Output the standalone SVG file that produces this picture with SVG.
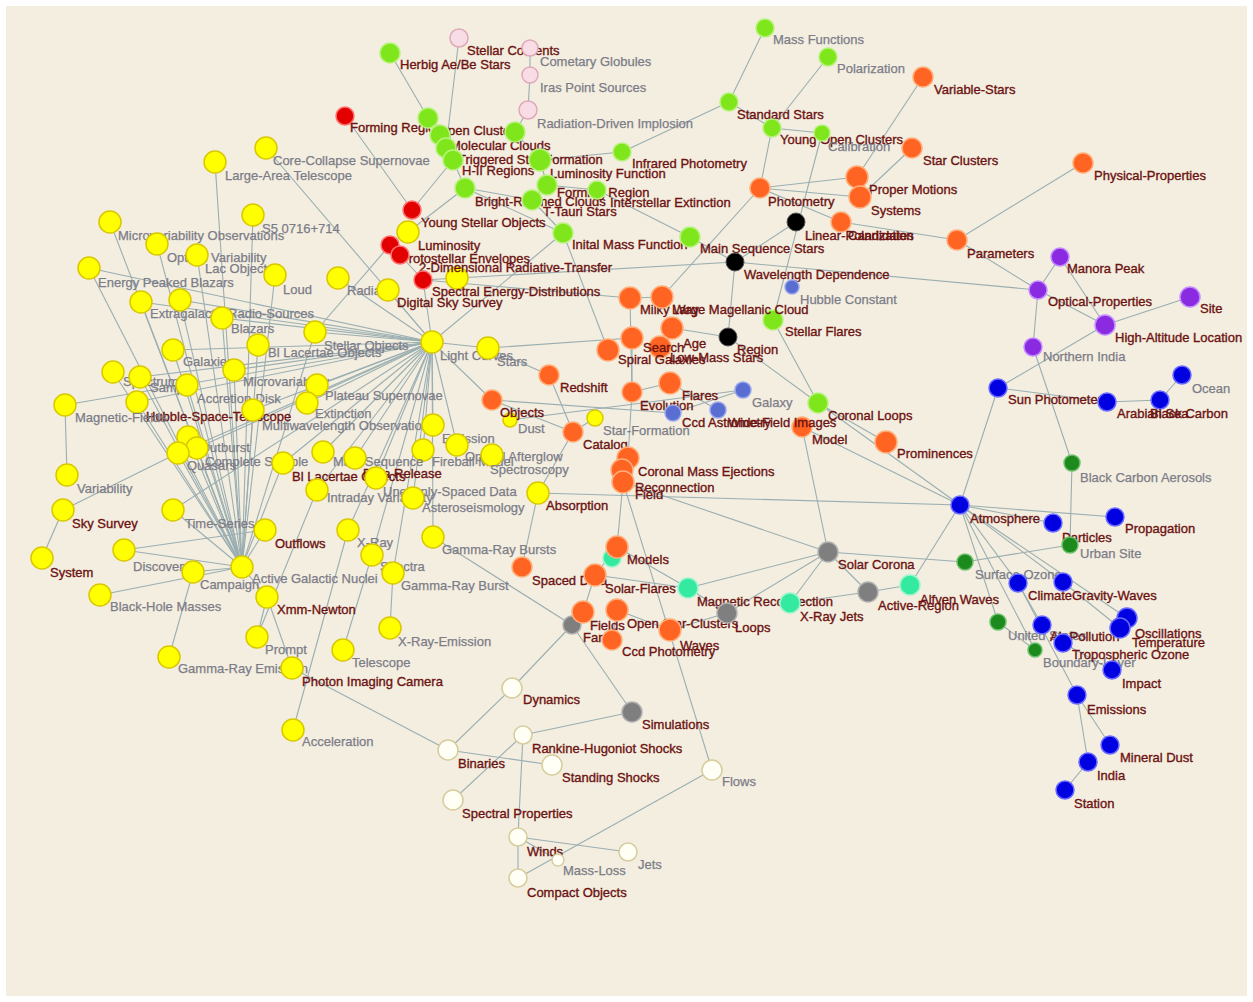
<svg xmlns="http://www.w3.org/2000/svg" width="1253" height="1002" viewBox="0 0 1253 1002">
<style>
.e line{stroke:#9aaeb2;stroke-width:1.1}
text{font-family:"Liberation Sans",Arial,sans-serif;font-size:13px}
.d{fill:#6d1212;stroke:#6d1212;stroke-width:0.35}
.m{fill:#7c7c88;stroke:#7c7c88;stroke-width:0.25}
.y{fill:#ffff00;stroke:#d9c800;stroke-width:1.5;r:11px}
.o{fill:#ff6422;stroke:#ffae7a;stroke-width:1.5}
.g{fill:#80e61c;stroke:#b8f27e;stroke-width:1.5}
.r{fill:#e30000;stroke:#ff7070;stroke-width:1.5}
.b{fill:#0000e0;stroke:#6a6aff;stroke-width:1.5}
.p{fill:#8a2be2;stroke:#c48cff;stroke-width:1.5}
.dg{fill:#1d8a1d;stroke:#6cc06c;stroke-width:1.5}
.t{fill:#33eaa0;stroke:#9af5cc;stroke-width:1.5}
.gr{fill:#7f7f7f;stroke:#b0b0b0;stroke-width:1.5}
.k{fill:#000;stroke:#555;stroke-width:1}
.w{fill:#fffff6;stroke:#d6cc9c;stroke-width:1.5}
.pk{fill:#f8dde6;stroke:#e0a8b8;stroke-width:1.5}
.s{fill:#5a6ed2;stroke:#98a6ee;stroke-width:1.5}
</style>
<rect width="1253" height="1002" fill="#ffffff"/>
<rect x="6" y="6" width="1241" height="990" fill="#f3eedf"/>
<g id="connectors" class="e">
<line x1="242" y1="567" x2="215" y2="162"/><line x1="242" y1="567" x2="110" y2="222"/><line x1="242" y1="567" x2="89" y2="268"/><line x1="242" y1="567" x2="157" y2="244"/><line x1="242" y1="567" x2="197" y2="255"/><line x1="242" y1="567" x2="141" y2="302"/><line x1="242" y1="567" x2="180" y2="300"/><line x1="242" y1="567" x2="222" y2="318"/><line x1="242" y1="567" x2="173" y2="350"/><line x1="242" y1="567" x2="113" y2="372"/><line x1="242" y1="567" x2="140" y2="377"/><line x1="242" y1="567" x2="187" y2="385"/><line x1="242" y1="567" x2="234" y2="370"/><line x1="242" y1="567" x2="137" y2="402"/><line x1="242" y1="567" x2="188" y2="437"/><line x1="242" y1="567" x2="197" y2="448"/><line x1="242" y1="567" x2="178" y2="453"/><line x1="242" y1="567" x2="173" y2="510"/><line x1="242" y1="567" x2="193" y2="572"/><line x1="242" y1="567" x2="265" y2="530"/><line x1="242" y1="567" x2="267" y2="597"/><line x1="242" y1="567" x2="258" y2="345"/><line x1="242" y1="567" x2="275" y2="275"/><line x1="242" y1="567" x2="315" y2="332"/><line x1="242" y1="567" x2="283" y2="463"/><line x1="242" y1="567" x2="253" y2="215"/><line x1="242" y1="567" x2="124" y2="550"/><line x1="242" y1="567" x2="100" y2="595"/><line x1="242" y1="567" x2="253" y2="410"/>
<line x1="432" y1="342" x2="89" y2="268"/><line x1="432" y1="342" x2="141" y2="302"/><line x1="432" y1="342" x2="180" y2="300"/><line x1="432" y1="342" x2="222" y2="318"/><line x1="432" y1="342" x2="173" y2="350"/><line x1="432" y1="342" x2="140" y2="377"/><line x1="432" y1="342" x2="234" y2="370"/><line x1="432" y1="342" x2="137" y2="402"/><line x1="432" y1="342" x2="65" y2="405"/><line x1="432" y1="342" x2="317" y2="385"/><line x1="432" y1="342" x2="307" y2="403"/><line x1="432" y1="342" x2="253" y2="410"/><line x1="432" y1="342" x2="323" y2="452"/><line x1="432" y1="342" x2="355" y2="458"/><line x1="432" y1="342" x2="283" y2="463"/><line x1="432" y1="342" x2="317" y2="490"/><line x1="432" y1="342" x2="197" y2="448"/><line x1="432" y1="342" x2="178" y2="453"/><line x1="432" y1="342" x2="348" y2="530"/><line x1="432" y1="342" x2="372" y2="555"/><line x1="432" y1="342" x2="393" y2="573"/><line x1="432" y1="342" x2="173" y2="510"/><line x1="432" y1="342" x2="388" y2="290"/><line x1="432" y1="342" x2="338" y2="278"/><line x1="432" y1="342" x2="315" y2="332"/><line x1="432" y1="342" x2="423" y2="450"/><line x1="432" y1="342" x2="433" y2="425"/><line x1="432" y1="342" x2="457" y2="445"/><line x1="432" y1="342" x2="376" y2="478"/><line x1="432" y1="342" x2="413" y2="498"/><line x1="432" y1="342" x2="266" y2="148"/><line x1="432" y1="342" x2="423" y2="280"/><line x1="432" y1="342" x2="563" y2="233"/><line x1="432" y1="342" x2="492" y2="400"/><line x1="432" y1="342" x2="488" y2="348"/><line x1="432" y1="342" x2="433" y2="537"/>
<line x1="65" y1="405" x2="67" y2="475"/><line x1="63" y1="510" x2="42" y2="558"/><line x1="63" y1="510" x2="178" y2="453"/><line x1="124" y1="550" x2="265" y2="530"/><line x1="169" y1="657" x2="193" y2="572"/><line x1="267" y1="597" x2="257" y2="637"/><line x1="267" y1="597" x2="292" y2="668"/><line x1="257" y1="637" x2="317" y2="490"/><line x1="293" y1="730" x2="348" y2="530"/><line x1="343" y1="650" x2="372" y2="555"/><line x1="390" y1="628" x2="393" y2="573"/><line x1="292" y1="668" x2="448" y2="750"/><line x1="433" y1="537" x2="572" y2="625"/>
<line x1="345" y1="116" x2="412" y2="210"/><line x1="390" y1="53" x2="428" y2="118"/><line x1="459" y1="38" x2="446" y2="148"/><line x1="530" y1="48" x2="530" y2="75"/><line x1="530" y1="75" x2="528" y2="110"/><line x1="528" y1="110" x2="515" y2="132"/><line x1="412" y1="210" x2="453" y2="160"/><line x1="408" y1="232" x2="465" y2="188"/><line x1="390" y1="245" x2="315" y2="332"/><line x1="400" y1="255" x2="423" y2="280"/><line x1="423" y1="280" x2="735" y2="262"/><line x1="423" y1="280" x2="630" y2="298"/><line x1="563" y1="233" x2="465" y2="188"/><line x1="563" y1="233" x2="532" y2="200"/><line x1="563" y1="233" x2="608" y2="350"/><line x1="690" y1="237" x2="597" y2="190"/><line x1="690" y1="237" x2="735" y2="262"/><line x1="729" y1="102" x2="622" y2="152"/><line x1="428" y1="118" x2="440" y2="135"/><line x1="440" y1="135" x2="446" y2="148"/><line x1="446" y1="148" x2="453" y2="160"/><line x1="453" y1="160" x2="465" y2="188"/><line x1="515" y1="132" x2="540" y2="160"/><line x1="540" y1="160" x2="547" y2="185"/><line x1="547" y1="185" x2="532" y2="200"/><line x1="540" y1="160" x2="622" y2="152"/><line x1="547" y1="185" x2="597" y2="190"/><line x1="465" y1="188" x2="532" y2="200"/>
<line x1="729" y1="102" x2="765" y2="28"/><line x1="729" y1="102" x2="772" y2="128"/><line x1="772" y1="128" x2="822" y2="133"/><line x1="828" y1="57" x2="772" y2="128"/><line x1="772" y1="128" x2="760" y2="188"/><line x1="822" y1="133" x2="773" y2="320"/><line x1="760" y1="188" x2="857" y2="177"/><line x1="760" y1="188" x2="860" y2="197"/><line x1="923" y1="77" x2="857" y2="177"/><line x1="912" y1="148" x2="860" y2="197"/><line x1="796" y1="222" x2="735" y2="262"/><line x1="760" y1="188" x2="841" y2="222"/><line x1="841" y1="222" x2="957" y2="240"/><line x1="957" y1="240" x2="1038" y2="290"/><line x1="957" y1="240" x2="1083" y2="163"/><line x1="735" y1="262" x2="1038" y2="290"/><line x1="735" y1="262" x2="728" y2="337"/><line x1="760" y1="188" x2="662" y2="297"/>
<line x1="488" y1="348" x2="632" y2="338"/><line x1="672" y1="328" x2="728" y2="337"/><line x1="488" y1="348" x2="549" y2="375"/><line x1="549" y1="375" x2="573" y2="432"/><line x1="573" y1="432" x2="492" y2="400"/><line x1="573" y1="432" x2="538" y2="493"/><line x1="632" y1="392" x2="632" y2="338"/><line x1="632" y1="392" x2="630" y2="298"/><line x1="632" y1="392" x2="628" y2="458"/><line x1="510" y1="420" x2="743" y2="390"/><line x1="492" y1="400" x2="673" y2="413"/><line x1="670" y1="383" x2="718" y2="410"/><line x1="728" y1="337" x2="818" y2="403"/><line x1="773" y1="320" x2="818" y2="403"/><line x1="802" y1="427" x2="828" y2="552"/><line x1="802" y1="427" x2="960" y2="505"/><line x1="818" y1="403" x2="960" y2="505"/><line x1="818" y1="403" x2="886" y2="442"/><line x1="538" y1="493" x2="960" y2="505"/><line x1="623" y1="482" x2="617" y2="547"/><line x1="617" y1="547" x2="688" y2="588"/><line x1="617" y1="547" x2="595" y2="575"/><line x1="538" y1="493" x2="522" y2="567"/><line x1="595" y1="575" x2="583" y2="612"/><line x1="583" y1="612" x2="572" y2="625"/><line x1="617" y1="610" x2="612" y2="640"/><line x1="670" y1="630" x2="617" y2="610"/><line x1="688" y1="588" x2="727" y2="613"/><line x1="727" y1="613" x2="828" y2="552"/><line x1="688" y1="588" x2="828" y2="552"/><line x1="828" y1="552" x2="790" y2="603"/><line x1="828" y1="552" x2="868" y2="592"/><line x1="868" y1="592" x2="910" y2="585"/><line x1="910" y1="585" x2="960" y2="505"/><line x1="965" y1="562" x2="828" y2="552"/><line x1="965" y1="562" x2="1070" y2="545"/><line x1="572" y1="625" x2="512" y2="688"/><line x1="572" y1="625" x2="632" y2="712"/><line x1="712" y1="770" x2="518" y2="878"/><line x1="712" y1="770" x2="623" y2="482"/><line x1="632" y1="712" x2="523" y2="735"/><line x1="523" y1="735" x2="453" y2="800"/><line x1="523" y1="735" x2="518" y2="837"/><line x1="448" y1="750" x2="552" y2="765"/><line x1="448" y1="750" x2="512" y2="688"/><line x1="518" y1="837" x2="518" y2="878"/><line x1="518" y1="837" x2="628" y2="852"/><line x1="558" y1="860" x2="518" y2="837"/><line x1="623" y1="482" x2="828" y2="552"/><line x1="595" y1="575" x2="688" y2="588"/><line x1="790" y1="603" x2="868" y2="592"/><line x1="670" y1="630" x2="727" y2="613"/><line x1="595" y1="418" x2="573" y2="432"/><line x1="632" y1="392" x2="670" y2="383"/><line x1="673" y1="413" x2="743" y2="390"/><line x1="630" y1="298" x2="662" y2="297"/>
<line x1="960" y1="505" x2="998" y2="388"/><line x1="998" y1="388" x2="1107" y2="402"/><line x1="1107" y1="402" x2="1160" y2="400"/><line x1="1160" y1="400" x2="1182" y2="375"/><line x1="998" y1="388" x2="1105" y2="325"/><line x1="1033" y1="347" x2="1038" y2="290"/><line x1="1033" y1="347" x2="1072" y2="463"/><line x1="1072" y1="463" x2="1070" y2="545"/><line x1="1038" y1="290" x2="1060" y2="257"/><line x1="1038" y1="290" x2="1105" y2="325"/><line x1="1060" y1="257" x2="1105" y2="325"/><line x1="1105" y1="325" x2="1190" y2="297"/><line x1="960" y1="505" x2="1053" y2="523"/><line x1="960" y1="505" x2="1115" y2="517"/><line x1="960" y1="505" x2="1018" y2="583"/><line x1="960" y1="505" x2="998" y2="622"/><line x1="960" y1="505" x2="1063" y2="582"/><line x1="960" y1="505" x2="1127" y2="618"/><line x1="960" y1="505" x2="1035" y2="650"/><line x1="1018" y1="583" x2="1077" y2="695"/><line x1="1077" y1="695" x2="1088" y2="762"/><line x1="1077" y1="695" x2="1110" y2="745"/><line x1="1088" y1="762" x2="1065" y2="790"/><line x1="1063" y1="643" x2="1112" y2="670"/><line x1="1018" y1="583" x2="1042" y2="625"/><line x1="1063" y1="582" x2="1120" y2="628"/><line x1="998" y1="622" x2="1035" y2="650"/>
</g>
<g id="nodes">
<g id="n-lat"><circle class="y" cx="215" cy="162" r="10"/><text class="m" x="225" y="180">Large-Area Telescope</text></g>
<g id="n-ccs"><circle class="y" cx="266" cy="148" r="9"/><text class="m" x="273" y="165">Core-Collapse Supernovae</text></g>
<g id="n-s5"><circle class="y" cx="253" cy="215" r="10"/><text class="m" x="262" y="233">S5 0716+714</text></g>
<g id="n-mvo"><circle class="y" cx="110" cy="222" r="10"/><text class="m" x="118" y="240">Microvariability Observations</text></g>
<g id="n-ov"><circle class="y" cx="157" cy="244" r="10"/><text class="m" x="167" y="262">Optical Variability</text></g>
<g id="n-lac"><circle class="y" cx="197" cy="255" r="10"/><text class="m" x="205" y="273">Lac Objects</text></g>
<g id="n-epb"><circle class="y" cx="89" cy="268" r="10"/><text class="m" x="98" y="287">Energy Peaked Blazars</text></g>
<g id="n-loud"><circle class="y" cx="275" cy="275" r="10"/><text class="m" x="283" y="294">Loud</text></g>
<g id="n-egr"><circle class="y" cx="141" cy="302" r="10"/><text class="m" x="150" y="318">Extragalactic Radio-Sources</text></g>
<g id="n-ext"><circle class="y" cx="180" cy="300" r="10"/></g>
<g id="n-blz"><circle class="y" cx="222" cy="318" r="10"/><text class="m" x="231" y="333">Blazars</text></g>
<g id="n-rad"><circle class="y" cx="338" cy="278" r="9"/><text class="m" x="347" y="295">Radial</text></g>
<g id="n-dss"><circle class="y" cx="388" cy="290" r="10"/><text class="d" x="397" y="307">Digital Sky Survey</text></g>
<g id="n-lum"><circle class="y" cx="408" cy="232" r="9"/><text class="d" x="418" y="250">Luminosity</text></g>
<g id="n-y457"><circle class="y" cx="457" cy="278" r="9"/></g>
<g id="n-so"><circle class="y" cx="315" cy="332" r="10"/><text class="m" x="324" y="350">Stellar Objects</text></g>
<g id="n-blo1"><circle class="y" cx="258" cy="345" r="9"/><text class="m" x="268" y="357">Bl Lacertae Objects</text></g>
<g id="n-lc"><circle class="y" cx="432" cy="342" r="9"/><text class="m" x="440" y="360">Light Curves</text></g>
<g id="n-stars"><circle class="y" cx="488" cy="348" r="10"/><text class="m" x="497" y="366">Stars</text></g>
<g id="n-gal"><circle class="y" cx="173" cy="350" r="10"/><text class="m" x="183" y="366">Galaxies</text></g>
<g id="n-spc"><circle class="y" cx="113" cy="372" r="10"/><text class="m" x="123" y="386">Spectrum</text></g>
<g id="n-smp"><circle class="y" cx="140" cy="377" r="10"/><text class="m" x="150" y="392">Sample</text></g>
<g id="n-acd"><circle class="y" cx="187" cy="385" r="10"/><text class="m" x="197" y="403">Accretion-Disk</text></g>
<g id="n-mv"><circle class="y" cx="234" cy="370" r="10"/><text class="m" x="243" y="386">Microvariability</text></g>
<g id="n-hst"><circle class="y" cx="137" cy="402" r="10"/><text class="d" x="146" y="421">Hubble-Space-Telescope</text></g>
<g id="n-mf"><circle class="y" cx="65" cy="405" r="10"/><text class="m" x="75" y="422">Magnetic-Fields</text></g>
<g id="n-psn"><circle class="y" cx="317" cy="385" r="9"/><text class="m" x="325" y="400">Plateau Supernovae</text></g>
<g id="n-ext2"><circle class="y" cx="307" cy="403" r="10"/><text class="m" x="315" y="418">Extinction</text></g>
<g id="n-mwl"><circle class="y" cx="253" cy="410" r="9"/><text class="m" x="262" y="430">Multiwavelength Observations</text></g>
<g id="n-mwo"><circle class="y" cx="433" cy="425" r="9"/><text class="m" x="442" y="443">Emission</text></g>
<g id="n-fbm"><circle class="y" cx="423" cy="450" r="10"/><text class="m" x="432" y="466">Fireball Model</text></g>
<g id="n-oag"><circle class="y" cx="457" cy="445" r="9"/><text class="m" x="465" y="461">Optical Afterglow</text></g>
<g id="n-spx"><circle class="y" cx="492" cy="455" r="7"/><text class="m" x="490" y="474">Spectroscopy</text></g>
<g id="n-ob1"><circle class="y" cx="188" cy="437" r="10"/><text class="m" x="200" y="452">Outburst</text></g>
<g id="n-ob2"><circle class="y" cx="197" cy="448" r="10"/><text class="m" x="205" y="466">Complete Sample</text></g>
<g id="n-qs"><circle class="y" cx="178" cy="453" r="10"/><text class="m" x="187" y="470">Quasars</text></g>
<g id="n-blo2"><circle class="y" cx="283" cy="463" r="10"/><text class="d" x="292" y="481">Bl Lacertae Objects</text></g>
<g id="n-ms"><circle class="y" cx="323" cy="452" r="9"/><text class="m" x="333" y="466">Main Sequence</text></g>
<g id="n-dr"><circle class="y" cx="355" cy="458" r="10"/><text class="d" x="363" y="478">Data Release</text></g>
<g id="n-ivar"><circle class="y" cx="317" cy="490" r="9"/><text class="m" x="327" y="502">Intraday Variability</text></g>
<g id="n-usd"><circle class="y" cx="376" cy="478" r="7"/><text class="m" x="383" y="496">Unevenly-Spaced Data</text></g>
<g id="n-ast"><circle class="y" cx="413" cy="498" r="7"/><text class="m" x="422" y="512">Asteroseismology</text></g>
<g id="n-abs"><circle class="y" cx="538" cy="493" r="10"/><text class="d" x="546" y="510">Absorption</text></g>
<g id="n-otf"><circle class="y" cx="265" cy="530" r="11"/><text class="d" x="275" y="548">Outflows</text></g>
<g id="n-var"><circle class="y" cx="67" cy="475" r="10"/><text class="m" x="77" y="493">Variability</text></g>
<g id="n-sky"><circle class="y" cx="63" cy="510" r="10"/><text class="d" x="72" y="528">Sky Survey</text></g>
<g id="n-ts"><circle class="y" cx="173" cy="510" r="10"/><text class="m" x="185" y="528">Time-Series</text></g>
<g id="n-xr"><circle class="y" cx="348" cy="530" r="10"/><text class="m" x="357" y="547">X-Ray</text></g>
<g id="n-grb2"><circle class="y" cx="433" cy="537" r="8"/><text class="m" x="442" y="554">Gamma-Ray Bursts</text></g>
<g id="n-spec"><circle class="y" cx="372" cy="555" r="10"/><text class="m" x="380" y="571">Spectra</text></g>
<g id="n-grb"><circle class="y" cx="393" cy="573" r="10"/><text class="m" x="401" y="590">Gamma-Ray Burst</text></g>
<g id="n-sys"><circle class="y" cx="42" cy="558" r="10"/><text class="d" x="50" y="577">System</text></g>
<g id="n-disc"><circle class="y" cx="124" cy="550" r="9"/><text class="m" x="133" y="571">Discovery</text></g>
<g id="n-camp"><circle class="y" cx="193" cy="572" r="10"/><text class="m" x="200" y="589">Campaign</text></g>
<g id="n-agn"><circle class="y" cx="242" cy="567" r="11"/><text class="m" x="252" y="583">Active Galactic Nuclei</text></g>
<g id="n-bhm"><circle class="y" cx="100" cy="595" r="10"/><text class="m" x="110" y="611">Black-Hole Masses</text></g>
<g id="n-xmm"><circle class="y" cx="267" cy="597" r="10"/><text class="d" x="277" y="614">Xmm-Newton</text></g>
<g id="n-prm"><circle class="y" cx="257" cy="637" r="9"/><text class="m" x="265" y="654">Prompt</text></g>
<g id="n-gre"><circle class="y" cx="169" cy="657" r="10"/><text class="m" x="178" y="673">Gamma-Ray Emission</text></g>
<g id="n-pic"><circle class="y" cx="292" cy="668" r="10"/><text class="d" x="302" y="686">Photon Imaging Camera</text></g>
<g id="n-acc"><circle class="y" cx="293" cy="730" r="9"/><text class="m" x="302" y="746">Acceleration</text></g>
<g id="n-tel"><circle class="y" cx="343" cy="650" r="9"/><text class="m" x="352" y="667">Telescope</text></g>
<g id="n-xre"><circle class="y" cx="390" cy="628" r="9"/><text class="m" x="398" y="646">X-Ray-Emission</text></g>
<g id="n-sf"><circle class="y" cx="595" cy="418" r="8" style="r:8px"/><text class="m" x="603" y="435">Star-Formation</text></g>
<g id="n-dust"><circle class="y" cx="510" cy="420" r="7" style="r:7px"/><text class="m" x="518" y="433">Dust</text></g>
<g id="n-fr"><circle class="r" cx="345" cy="116" r="9"/><text class="d" x="350" y="132">Forming Region</text></g>
<g id="n-yso"><circle class="r" cx="412" cy="210" r="9"/><text class="d" x="421" y="227">Young Stellar Objects</text></g>
<g id="n-pe1"><circle class="r" cx="390" cy="245" r="9"/><text class="d" x="400" y="263">Protostellar Envelopes</text></g>
<g id="n-pe2"><circle class="r" cx="400" cy="255" r="9"/><text class="d" x="419" y="272">2-Dimensional Radiative-Transfer</text></g>
<g id="n-sed"><circle class="r" cx="423" cy="280" r="9"/><text class="d" x="432" y="296">Spectral Energy-Distributions</text></g>
<g id="n-stc"><circle class="pk" cx="459" cy="38" r="9"/><text class="d" x="467" y="55">Stellar Contents</text></g>
<g id="n-cg"><circle class="pk" cx="530" cy="48" r="8"/><text class="m" x="540" y="66">Cometary Globules</text></g>
<g id="n-ips"><circle class="pk" cx="530" cy="75" r="8"/><text class="m" x="540" y="92">Iras Point Sources</text></g>
<g id="n-rdi"><circle class="pk" cx="528" cy="110" r="9"/><text class="m" x="537" y="128">Radiation-Driven Implosion</text></g>
<g id="n-hab"><circle class="g" cx="390" cy="53" r="10"/><text class="d" x="400" y="69">Herbig Ae/Be Stars</text></g>
<g id="n-oc"><circle class="g" cx="428" cy="118" r="10"/><text class="d" x="438" y="135">Open Clusters</text></g>
<g id="n-mc"><circle class="g" cx="440" cy="135" r="10"/><text class="d" x="450" y="150">Molecular Clouds</text></g>
<g id="n-tsf"><circle class="g" cx="446" cy="148" r="10"/><text class="d" x="458" y="164">Triggered Star Formation</text></g>
<g id="n-hii"><circle class="g" cx="453" cy="160" r="10"/><text class="d" x="462" y="175">H-II Regions</text></g>
<g id="n-g515"><circle class="g" cx="515" cy="132" r="10"/></g>
<g id="n-g540"><circle class="g" cx="540" cy="160" r="11"/><text class="d" x="550" y="178">Luminosity Function</text></g>
<g id="n-g547"><circle class="g" cx="547" cy="185" r="10"/><text class="d" x="557" y="197">Forming Region</text></g>
<g id="n-bcr"><circle class="g" cx="465" cy="188" r="10"/><text class="d" x="475" y="206">Bright-Rimmed Clouds</text></g>
<g id="n-tt"><circle class="g" cx="532" cy="200" r="10"/><text class="d" x="543" y="216">T-Tauri Stars</text></g>
<g id="n-ise"><circle class="g" cx="597" cy="190" r="9"/><text class="d" x="610" y="207">Interstellar Extinction</text></g>
<g id="n-imf"><circle class="g" cx="563" cy="233" r="10"/><text class="d" x="572" y="249">Inital Mass Function</text></g>
<g id="n-mss"><circle class="g" cx="690" cy="237" r="10"/><text class="d" x="700" y="253">Main Sequence Stars</text></g>
<g id="n-irp"><circle class="g" cx="622" cy="152" r="9"/><text class="d" x="632" y="168">Infrared Photometry</text></g>
<g id="n-ss"><circle class="g" cx="729" cy="102" r="9"/><text class="d" x="737" y="119">Standard Stars</text></g>
<g id="n-mfn"><circle class="g" cx="765" cy="28" r="9"/><text class="m" x="773" y="44">Mass Functions</text></g>
<g id="n-pol"><circle class="g" cx="828" cy="57" r="9"/><text class="m" x="837" y="73">Polarization</text></g>
<g id="n-yoc"><circle class="g" cx="772" cy="128" r="9"/><text class="d" x="780" y="144">Young Open Clusters</text></g>
<g id="n-cal"><circle class="g" cx="822" cy="133" r="8"/><text class="m" x="828" y="151">Calibration</text></g>
<g id="n-sfl"><circle class="g" cx="773" cy="320" r="10"/><text class="d" x="785" y="336">Stellar Flares</text></g>
<g id="n-cl"><circle class="g" cx="818" cy="403" r="10"/><text class="d" x="828" y="420">Coronal Loops</text></g>
<g id="n-vs"><circle class="o" cx="923" cy="77" r="10"/><text class="d" x="934" y="94">Variable-Stars</text></g>
<g id="n-scl"><circle class="o" cx="912" cy="148" r="10"/><text class="d" x="923" y="165">Star Clusters</text></g>
<g id="n-ppr"><circle class="o" cx="1083" cy="163" r="10"/><text class="d" x="1094" y="180">Physical-Properties</text></g>
<g id="n-pm"><circle class="o" cx="857" cy="177" r="11"/><text class="d" x="869" y="194">Proper Motions</text></g>
<g id="n-sysm"><circle class="o" cx="860" cy="197" r="11"/><text class="d" x="871" y="215">Systems</text></g>
<g id="n-phot"><circle class="o" cx="760" cy="188" r="10"/><text class="d" x="768" y="206">Photometry</text></g>
<g id="n-cand"><circle class="o" cx="841" cy="222" r="10"/><text class="d" x="848" y="240">Candidates</text></g>
<g id="n-par"><circle class="o" cx="957" cy="240" r="10"/><text class="d" x="967" y="258">Parameters</text></g>
<g id="n-mw"><circle class="o" cx="630" cy="298" r="11"/><text class="d" x="640" y="314">Milky Way</text></g>
<g id="n-lmc"><circle class="o" cx="662" cy="297" r="11"/><text class="d" x="672" y="314">Large Magellanic Cloud</text></g>
<g id="n-age"><circle class="o" cx="672" cy="328" r="11"/><text class="d" x="683" y="348">Age</text></g>
<g id="n-lms"><circle class="o" cx="660" cy="347" r="11"/><text class="d" x="670" y="362">Low-Mass Stars</text></g>
<g id="n-srch"><circle class="o" cx="632" cy="338" r="11"/><text class="d" x="643" y="352">Search</text></g>
<g id="n-spg"><circle class="o" cx="608" cy="350" r="11"/><text class="d" x="618" y="364">Spiral Galaxies</text></g>
<g id="n-rs"><circle class="o" cx="549" cy="375" r="10"/><text class="d" x="560" y="392">Redshift</text></g>
<g id="n-evo"><circle class="o" cx="632" cy="392" r="10"/><text class="d" x="640" y="410">Evolution</text></g>
<g id="n-flr"><circle class="o" cx="670" cy="383" r="11"/><text class="d" x="682" y="400">Flares</text></g>
<g id="n-cat"><circle class="o" cx="573" cy="432" r="10"/><text class="d" x="583" y="449">Catalog</text></g>
<g id="n-obj"><circle class="o" cx="492" cy="400" r="10"/><text class="d" x="500" y="417">Objects</text></g>
<g id="n-mdl"><circle class="o" cx="802" cy="427" r="10"/><text class="d" x="812" y="444">Model</text></g>
<g id="n-prom"><circle class="o" cx="886" cy="442" r="11"/><text class="d" x="897" y="458">Prominences</text></g>
<g id="n-cme"><circle class="o" cx="628" cy="458" r="11"/><text class="d" x="638" y="476">Coronal Mass Ejections</text></g>
<g id="n-rec"><circle class="o" cx="622" cy="470" r="11"/><text class="d" x="635" y="492">Reconnection</text></g>
<g id="n-fld"><circle class="o" cx="623" cy="482" r="11"/><text class="d" x="635" y="499">Field</text></g>
<g id="n-t612"><circle class="t" cx="612" cy="558" r="9"/></g>
<g id="n-mod"><circle class="o" cx="617" cy="547" r="11"/><text class="d" x="627" y="564">Models</text></g>
<g id="n-spd"><circle class="o" cx="522" cy="567" r="10"/><text class="d" x="532" y="585">Spaced Data</text></g>
<g id="n-sfl2"><circle class="o" cx="595" cy="575" r="11"/><text class="d" x="605" y="593">Solar-Flares</text></g>
<g id="n-fan"><circle class="gr" cx="572" cy="625" r="9"/><text class="d" x="583" y="642">Fan</text></g>
<g id="n-flds"><circle class="o" cx="583" cy="612" r="11"/><text class="d" x="590" y="630">Fields</text></g>
<g id="n-osc"><circle class="o" cx="617" cy="610" r="11"/><text class="d" x="627" y="628">Open Star-Clusters</text></g>
<g id="n-ccdp"><circle class="o" cx="612" cy="640" r="10"/><text class="d" x="622" y="656">Ccd Photometry</text></g>
<g id="n-wav"><circle class="o" cx="670" cy="630" r="11"/><text class="d" x="680" y="650">Waves</text></g>
<g id="n-wd"><circle class="k" cx="735" cy="262" r="9"/><text class="d" x="744" y="279">Wavelength Dependence</text></g>
<g id="n-lin"><circle class="k" cx="796" cy="222" r="9"/><text class="d" x="805" y="240">Linear-Polarization</text></g>
<g id="n-reg"><circle class="k" cx="728" cy="337" r="9"/><text class="d" x="737" y="354">Region</text></g>
<g id="n-hc"><circle class="s" cx="792" cy="287" r="7"/><text class="m" x="800" y="304">Hubble Constant</text></g>
<g id="n-gxy"><circle class="s" cx="743" cy="390" r="8"/><text class="m" x="752" y="407">Galaxy</text></g>
<g id="n-wfi"><circle class="s" cx="718" cy="410" r="8"/><text class="d" x="728" y="427">Wide-Field Images</text></g>
<g id="n-ccda"><circle class="s" cx="673" cy="413" r="8"/><text class="d" x="682" y="427">Ccd Astrometry</text></g>
<g id="n-mr"><circle class="t" cx="688" cy="588" r="10"/><text class="d" x="697" y="606">Magnetic Reconnection</text></g>
<g id="n-xrj"><circle class="t" cx="790" cy="603" r="10"/><text class="d" x="800" y="621">X-Ray Jets</text></g>
<g id="n-alf"><circle class="t" cx="910" cy="585" r="10"/><text class="d" x="920" y="604">Alfven Waves</text></g>
<g id="n-sc"><circle class="gr" cx="828" cy="552" r="10"/><text class="d" x="838" y="569">Solar Corona</text></g>
<g id="n-ar"><circle class="gr" cx="868" cy="592" r="10"/><text class="d" x="878" y="610">Active-Region</text></g>
<g id="n-lps"><circle class="gr" cx="727" cy="613" r="10"/><text class="d" x="735" y="632">Loops</text></g>
<g id="n-sim"><circle class="gr" cx="632" cy="712" r="10"/><text class="d" x="642" y="729">Simulations</text></g>
<g id="n-dyn"><circle class="w" cx="512" cy="688" r="10"/><text class="d" x="523" y="704">Dynamics</text></g>
<g id="n-rhs"><circle class="w" cx="523" cy="735" r="9"/><text class="d" x="532" y="753">Rankine-Hugoniot Shocks</text></g>
<g id="n-bin"><circle class="w" cx="448" cy="750" r="10"/><text class="d" x="458" y="768">Binaries</text></g>
<g id="n-sts"><circle class="w" cx="552" cy="765" r="10"/><text class="d" x="562" y="782">Standing Shocks</text></g>
<g id="n-flw"><circle class="w" cx="712" cy="770" r="10"/><text class="m" x="722" y="786">Flows</text></g>
<g id="n-spp"><circle class="w" cx="453" cy="800" r="10"/><text class="d" x="462" y="818">Spectral Properties</text></g>
<g id="n-wnd"><circle class="w" cx="518" cy="837" r="9"/><text class="d" x="527" y="856">Winds</text></g>
<g id="n-jets"><circle class="w" cx="628" cy="852" r="9"/><text class="m" x="638" y="869">Jets</text></g>
<g id="n-ml"><circle class="w" cx="558" cy="860" r="6"/><text class="m" x="563" y="875">Mass-Loss</text></g>
<g id="n-co"><circle class="w" cx="518" cy="878" r="9"/><text class="d" x="527" y="897">Compact Objects</text></g>
<g id="n-mp"><circle class="p" cx="1060" cy="257" r="9"/><text class="d" x="1067" y="273">Manora Peak</text></g>
<g id="n-op"><circle class="p" cx="1038" cy="290" r="9"/><text class="d" x="1048" y="306">Optical-Properties</text></g>
<g id="n-site"><circle class="p" cx="1190" cy="297" r="10"/><text class="d" x="1200" y="313">Site</text></g>
<g id="n-hal"><circle class="p" cx="1105" cy="325" r="10"/><text class="d" x="1115" y="342">High-Altitude Location</text></g>
<g id="n-ni"><circle class="p" cx="1033" cy="347" r="9"/><text class="m" x="1043" y="361">Northern India</text></g>
<g id="n-sp"><circle class="b" cx="998" cy="388" r="9"/><text class="d" x="1008" y="404">Sun Photometer</text></g>
<g id="n-as"><circle class="b" cx="1107" cy="402" r="9"/><text class="d" x="1117" y="418">Arabian Sea</text></g>
<g id="n-bc"><circle class="b" cx="1160" cy="400" r="9"/><text class="d" x="1150" y="418">Black Carbon</text></g>
<g id="n-ocn"><circle class="b" cx="1182" cy="375" r="9"/><text class="m" x="1192" y="393">Ocean</text></g>
<g id="n-atm"><circle class="b" cx="960" cy="505" r="9"/><text class="d" x="970" y="523">Atmosphere</text></g>
<g id="n-pcl"><circle class="b" cx="1053" cy="523" r="9"/><text class="d" x="1062" y="542">Particles</text></g>
<g id="n-prp"><circle class="b" cx="1115" cy="517" r="9"/><text class="d" x="1125" y="533">Propagation</text></g>
<g id="n-bca"><circle class="dg" cx="1072" cy="463" r="8"/><text class="m" x="1080" y="482">Black Carbon Aerosols</text></g>
<g id="n-us"><circle class="dg" cx="1070" cy="545" r="8"/><text class="m" x="1080" y="558">Urban Site</text></g>
<g id="n-so3"><circle class="dg" cx="965" cy="562" r="8"/><text class="m" x="975" y="579">Surface Ozone</text></g>
<g id="n-clm"><circle class="b" cx="1018" cy="583" r="9"/><text class="d" x="1028" y="600">Climate</text></g>
<g id="n-gw"><circle class="b" cx="1063" cy="582" r="9"/><text class="d" x="1072" y="600">Gravity-Waves</text></g>
<g id="n-ust"><circle class="dg" cx="998" cy="622" r="8"/><text class="m" x="1008" y="640">United States</text></g>
<g id="n-bl"><circle class="dg" cx="1035" cy="650" r="7"/><text class="m" x="1043" y="667">Boundary-Layer</text></g>
<g id="n-apl"><circle class="b" cx="1042" cy="625" r="9"/><text class="d" x="1050" y="641">Air Pollution</text></g>
<g id="n-tro"><circle class="b" cx="1063" cy="643" r="9"/><text class="d" x="1072" y="659">Tropospheric Ozone</text></g>
<g id="n-oscl"><circle class="b" cx="1127" cy="618" r="10"/><text class="d" x="1135" y="638">Oscillations</text></g>
<g id="n-tmp"><circle class="b" cx="1120" cy="628" r="10"/><text class="d" x="1132" y="647">Temperature</text></g>
<g id="n-imp"><circle class="b" cx="1112" cy="670" r="9"/><text class="d" x="1122" y="688">Impact</text></g>
<g id="n-ems"><circle class="b" cx="1077" cy="695" r="9"/><text class="d" x="1087" y="714">Emissions</text></g>
<g id="n-md"><circle class="b" cx="1110" cy="745" r="9"/><text class="d" x="1120" y="762">Mineral Dust</text></g>
<g id="n-ind"><circle class="b" cx="1088" cy="762" r="9"/><text class="d" x="1097" y="780">India</text></g>
<g id="n-stn"><circle class="b" cx="1065" cy="790" r="9"/><text class="d" x="1074" y="808">Station</text></g>
</g>
</svg>
